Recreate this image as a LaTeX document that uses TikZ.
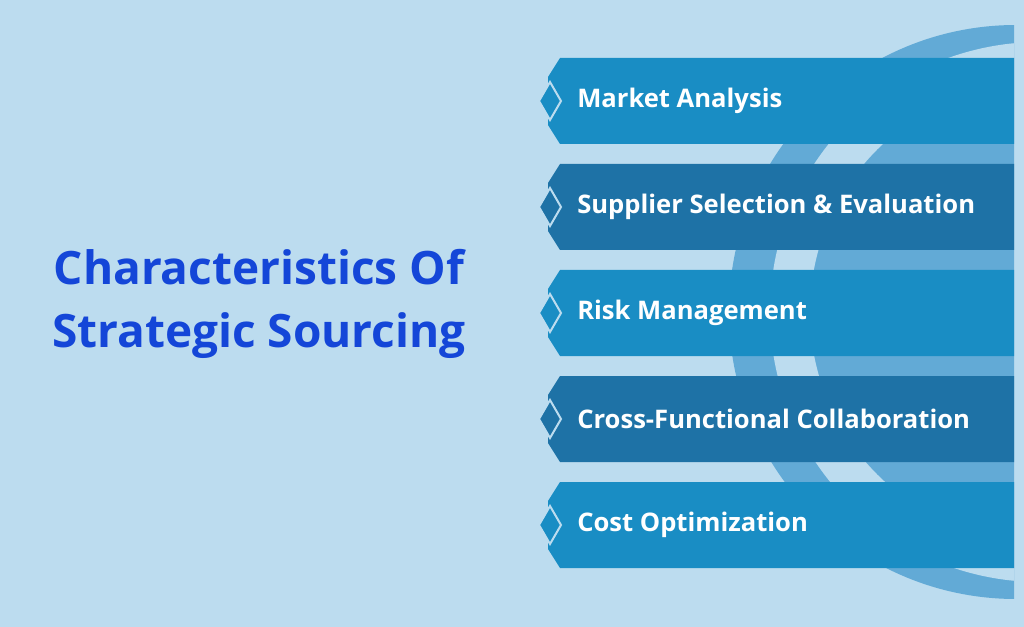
\documentclass[tikz,border=0pt]{standalone}
\usepackage{fontspec}
\setmainfont{Open Sans}
\usetikzlibrary{positioning}
\definecolor{bgcol}{HTML}{BCDCEF}
\definecolor{disccol}{HTML}{62AAD6}
\definecolor{lightbar}{HTML}{198DC4}
\definecolor{darkbar}{HTML}{1E72A6}
\definecolor{titlecol}{HTML}{1446D8}
\tikzset{
    barsty/.style={fill=#1},
    gemsty/.style={fill=#1,draw=bgcol,line width=1.5pt},
    itemsty/.style={anchor=west,text=white,font=\fontsize{19.2}{22}\selectfont\bfseries,inner sep=0pt},
    titlesty/.style={text=titlecol,align=center,font=\fontsize{34.5}{47}\selectfont\bfseries},
}
\begin{document}
\begin{tikzpicture}[x=0.75pt,y=-0.75pt]
  \fill[bgcol] (0,0) rectangle (1024,627);
  \useasboundingbox (0,0) rectangle (1024,627);

  % background rings
  \begin{scope}
    \clip (0,0) rectangle (1014,627);
    \fill[disccol] (1016,312) circle (287);
    \fill[bgcol, even odd rule] (1040,312) circle (270) (1040,312) circle (230);
  \end{scope}

  \node[titlesty] (title) at (259,304) {Characteristics Of\\Strategic Sourcing};

  \foreach \i/\txt/\col in {0/Market Analysis/lightbar,
                            1/Supplier Selection \& Evaluation/darkbar,
                            2/Risk Management/lightbar,
                            3/Cross-Functional Collaboration/darkbar,
                            4/Cost Optimization/lightbar}{
    \pgfmathsetmacro{\top}{58+106*\i}
    \fill[barsty=\col] (560,\top) -- (1014,\top) -- (1014,\top+86) -- (560,\top+86)
        -- (548,\top+67) -- (548,\top+19) -- cycle;
    \filldraw[gemsty=\col] (539,\top+43) -- (550,\top+24) -- (561,\top+43) -- (550,\top+62) -- cycle;
    \node[itemsty] (item\i) at (577,\top+43) {\txt};
  }
\end{tikzpicture}
\end{document}
